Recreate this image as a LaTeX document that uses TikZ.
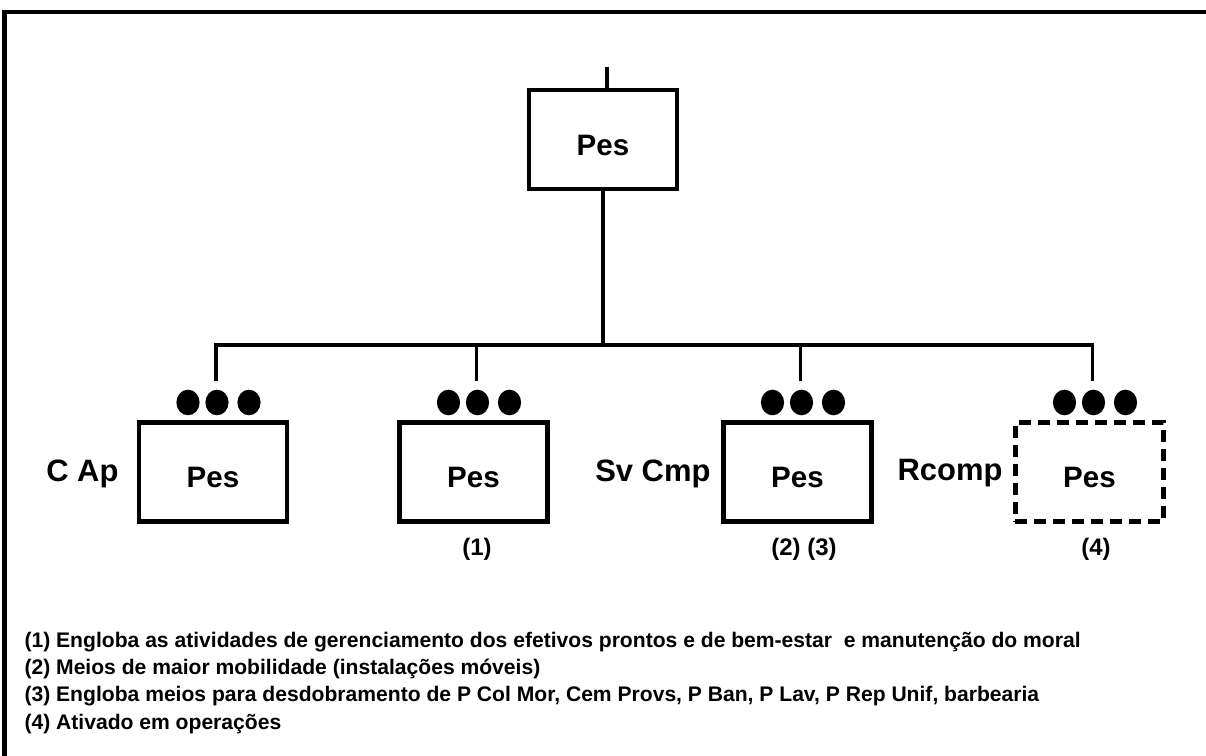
\documentclass[tikz,border=0pt]{standalone}
\usepackage{fontspec}
\setmainfont{Liberation Sans}
\usetikzlibrary{positioning, calc}

\begin{document}
\begin{tikzpicture}[
        x=0.025cm, y=-0.025cm,
        thick,
        unit/.style={
            draw,
            line width=2.9pt,
            minimum width=3.7cm,
            minimum height=2.475cm,
            inner sep=0pt,
            outer sep=0pt,
            text height=0.78cm,
            text depth=0pt,
            font=\bfseries\fontsize{21}{25}\selectfont
        },
        reserve/.style={unit, dash pattern=on 8.5pt off 5pt},
        tag/.style={font=\bfseries\fontsize{22}{26}\selectfont, inner sep=0pt, anchor=base east},
        note/.style={font=\bfseries\fontsize{17}{20}\selectfont, inner sep=0pt, anchor=base},
        legend/.style={font=\bfseries\fontsize{15}{18}\selectfont, inner sep=0pt, anchor=base west},
        link/.style={line width=2.3pt},
        frame/.style={line width=2.9pt}
    ]

        \useasboundingbox (0,0) rectangle (1206,756);

        % Outer frame (left and top only)
        \draw[frame] (4.5,756) -- (4.5,12) -- (1206,12);

        % Top box
        \node[unit] (pes) at (603,139.5) {Pes};
        \coordinate (feed) at (607,67);
        \draw[link] (feed) -- (feed |- pes.north);

        % Lower boxes
        \node[unit] (cap) at (213,472) {Pes};
        \node[unit] (bem) at (473.5,472) {Pes};
        \node[unit] (svc) at (797.5,472) {Pes};
        \node[reserve] (rcp) at (1089.5,472) {Pes};

        % Drops and dots
        \coordinate (bus) at (603,345);
        \foreach \b in {cap,bem,svc,rcp} {
            \coordinate (\b-drop) at ($(\b.north)+(3,-41)$);
            \foreach \dx in {-25,4,36}
                \fill ($(\b.north)+(\dx,-20)$) ellipse [x radius=0.29cm, y radius=0.32cm];
        }
        \draw[link] (pes.south) -- (bus);
        \draw[link] (cap-drop) -- (cap-drop |- bus) -- (rcp-drop |- bus) -- (rcp-drop);
        \draw[link] (bem-drop |- bus) -- (bem-drop);
        \draw[link] (svc-drop |- bus) -- (svc-drop);

        % Side tags
        \node[tag] (captag) at (119,481) {C Ap};
        \node[tag] (svctag) at (711,481) {Sv Cmp};
        \node[tag] (rcptag) at (1003,480) {Rcomp};

        % Notes under boxes
        \node[note] (bemnote) at (477,555) {(1)};
        \node[note] (svcnote) at (804,555) {(2) (3)};
        \node[note] (rcpnote) at (1096,555) {(4)};

        % Legend
        \node[legend] (leg1) at (24,647) {(1) Engloba as atividades de gerenciamento dos efetivos prontos e de bem-estar\ \ e manutenção do moral};
        \node[legend] (leg2) at (24,674) {(2) Meios de maior mobilidade (instalações móveis)};
        \node[legend] (leg3) at (24,701) {(3) Engloba meios para desdobramento de P Col Mor, Cem Provs, P Ban, P Lav, P Rep Unif, barbearia};
        \node[legend] (leg4) at (24,729) {(4) Ativado em operações};

    \end{tikzpicture}
\end{document}
